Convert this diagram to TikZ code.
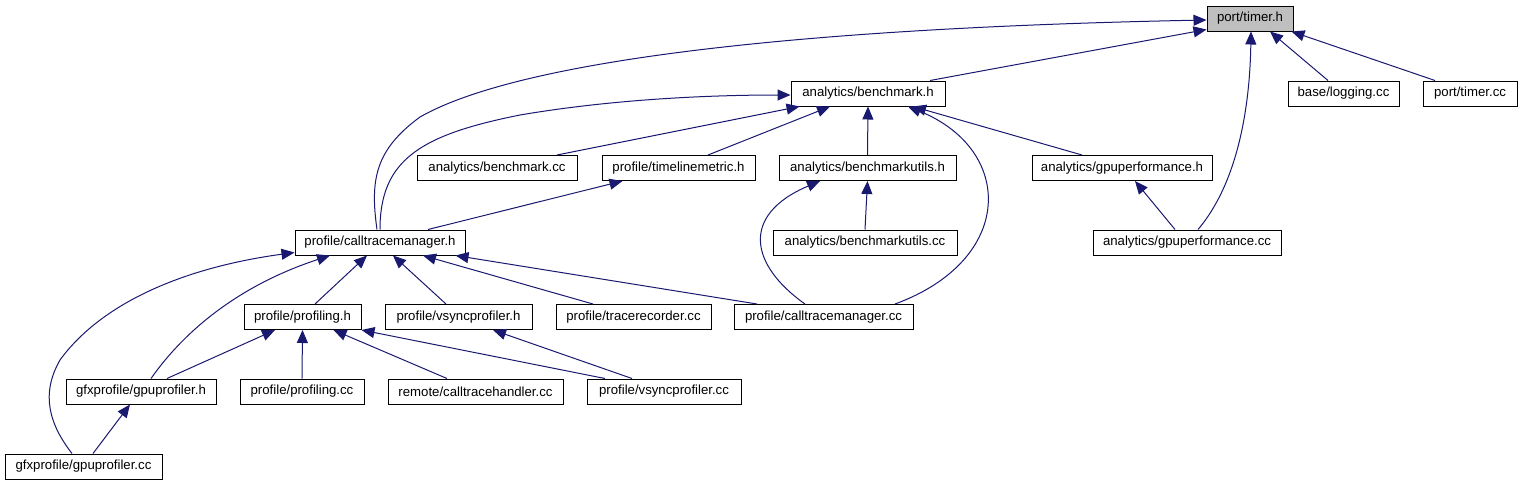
\documentclass[tikz,border=0pt]{standalone}
\usepackage{fontspec}
\setmainfont{Liberation Sans}
\usetikzlibrary{arrows.meta}
\definecolor{edgeblue}{HTML}{191970}
\definecolor{hlgray}{HTML}{BFBFBF}
\tikzset{
  fnode/.style={draw=black, line width=1pt, fill=white, rectangle, inner sep=0pt,
    minimum height=25pt, font=\fontsize{13.2}{15}\selectfont, anchor=center},
  dep/.style={draw=edgeblue, line width=1pt, -{Triangle[length=13pt,width=11pt]}, edgeblue}
}
\begin{document}
\begin{tikzpicture}[x=1pt,y=-1pt]
\useasboundingbox (0,0) rectangle (1529,485);
% nodes
\node[fnode, fill=hlgray, minimum width=86pt] (th) at (1250,18.5) {port/timer.h};
\node[fnode, minimum width=154pt] (bh) at (868,93.5) {analytics/benchmark.h};
\node[fnode, minimum width=111pt] (lg) at (1343.5,93.5) {base/logging.cc};
\node[fnode, minimum width=94pt] (tc) at (1470,93.5) {port/timer.cc};
\node[fnode, minimum width=160pt] (bc) at (497,168) {analytics/benchmark.cc};
\node[fnode, minimum width=153pt] (tm) at (678.5,168) {profile/timelinemetric.h};
\node[fnode, minimum width=177pt] (buh) at (867.5,168) {analytics/benchmarkutils.h};
\node[fnode, minimum width=180pt] (gph) at (1122,168) {analytics/gpuperformance.h};
\node[fnode, minimum width=170pt] (cmh) at (380,242.5) {profile/calltracemanager.h};
\node[fnode, minimum width=184pt] (buc) at (865,242.5) {analytics/benchmarkutils.cc};
\node[fnode, minimum width=188pt] (gpc) at (1187,242.5) {analytics/gpuperformance.cc};
\node[fnode, minimum width=117pt] (ph) at (302.5,317) {profile/profiling.h};
\node[fnode, minimum width=147pt] (vh) at (458.5,317) {profile/vsyncprofiler.h};
\node[fnode, minimum width=155pt] (tr) at (633.5,317) {profile/tracerecorder.cc};
\node[fnode, minimum width=179pt] (cmc) at (823.5,317) {profile/calltracemanager.cc};
\node[fnode, minimum width=150pt] (gh) at (141,391.5) {gfxprofile/gpuprofiler.h};
\node[fnode, minimum width=124pt] (pc) at (302,391.5) {profile/profiling.cc};
\node[fnode, minimum width=175pt] (rc) at (475.5,391.5) {remote/calltracehandler.cc};
\node[fnode, minimum width=154pt] (vc) at (664,391.5) {profile/vsyncprofiler.cc};
\node[fnode, minimum width=157pt] (gc) at (83.5,466.5) {gfxprofile/gpuprofiler.cc};
% edges
\draw[dep] ([xshift=-3pt]cmh.north) .. controls (370,180) and (375,150) .. (420,117)
  .. controls (520,60) and (800,28) .. ([yshift=-1.5pt]th.west);
\draw[dep] ([xshift=62pt]bh.north) -- ([yshift=2pt]th.south west);
\draw[dep] ([xshift=-15.5pt]lg.north) -- ([xshift=20pt]th.south);
\draw[dep] ([xshift=-35pt]tc.north) -- ([xshift=-2pt]th.south east);
\draw[dep] ([xshift=11pt]gpc.north) .. controls (1240,180) and (1250,100) .. ([xshift=1pt]th.south);
\draw[dep] (cmh.north) .. controls (380,160) and (420,135) .. (520,115)
  .. controls (620,98) and (720,95) .. ([yshift=-1.5pt]bh.west);
\draw[dep] ([xshift=60pt]bc.north) -- ([xshift=9pt]bh.south west);
\draw[dep] ([xshift=29.5pt]tm.north) -- ([xshift=-38pt]bh.south);
\draw[dep] (buh.north) -- (bh.south);
\draw[dep] ([xshift=-40pt]gph.north) -- ([xshift=45pt]bh.south);
\draw[dep] ([xshift=71.5pt]cmc.north) .. controls (1015,260) and (1015,150) .. ([xshift=40pt]bh.south);
\draw[dep] ([xshift=48pt]cmh.north) -- ([xshift=-56pt]tm.south);
\draw[dep] (buc.north) -- (buh.south);
\draw[dep] ([xshift=-18.5pt]cmc.north) .. controls (750,265) and (740,215) .. ([xshift=-47.5pt]buh.south);
\draw[dep] ([xshift=-12pt]gpc.north) -- ([xshift=13pt]gph.south);
\draw[dep] ([xshift=-11.5pt]gc.north) .. controls (50,425) and (40,395) .. (60,360)
  .. controls (100,305) and (180,268) .. ([yshift=3pt]cmh.south west);
\draw[dep] ([xshift=10pt]gh.north) .. controls (185,330) and (240,285) .. ([xshift=-50pt]cmh.south);
\draw[dep] ([xshift=12.5pt]ph.north) -- ([xshift=-13pt]cmh.south);
\draw[dep] ([xshift=-12.5pt]vh.north) -- ([xshift=13pt]cmh.south);
\draw[dep] ([xshift=-40.5pt]tr.north) -- ([xshift=43pt]cmh.south);
\draw[dep] ([xshift=-66.5pt]cmc.north) -- ([xshift=-10pt]cmh.south east);
\draw[dep] ([xshift=26pt]gh.north) -- ([xshift=-27.5pt]ph.south);
\draw[dep] (pc.north) -- (ph.south);
\draw[dep] ([xshift=-28.5pt]rc.north) -- ([xshift=31pt]ph.south);
\draw[dep] ([xshift=-59pt]vc.north) -- (ph.south east);
\draw[dep] ([xshift=-32pt]vc.north) -- ([xshift=34.5pt]vh.south);
\draw[dep] ([xshift=9.5pt]gc.north) -- ([xshift=-11pt]gh.south);
\end{tikzpicture}
\end{document}
